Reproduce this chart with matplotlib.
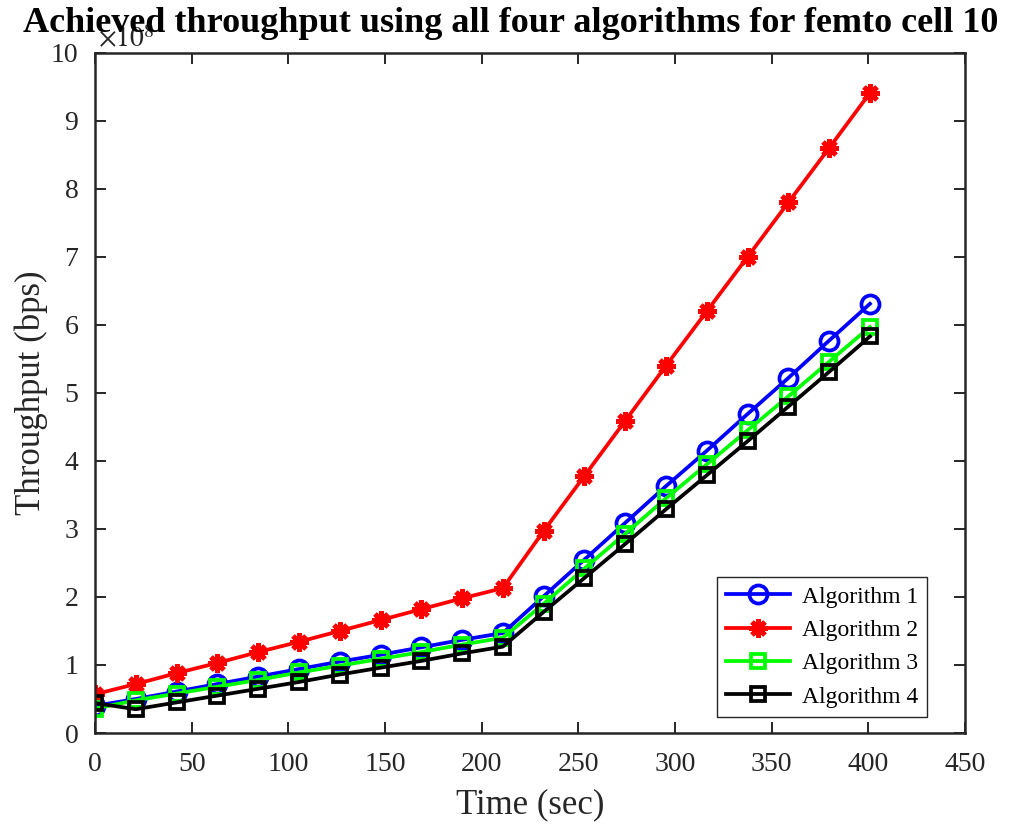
import matplotlib
matplotlib.use('Agg')
import matplotlib.pyplot as plt

plt.rcParams['font.family'] = ['Liberation Serif', 'DejaVu Serif']
plt.rcParams['mathtext.fontset'] = 'stix'

time_sec = [0, 21.1, 42.2, 63.3, 84.4, 105.5, 126.6, 147.7, 168.8, 189.9,
            211.0, 232.1, 253.2, 274.3, 295.4, 316.5, 337.6, 358.7, 379.8, 400.9]

# throughput in units of 1e8 bps
alg1 = [0.40, 0.50, 0.61, 0.72, 0.83, 0.94, 1.05, 1.15, 1.26, 1.37,
        1.47, 2.01, 2.55, 3.09, 3.63, 4.15, 4.69, 5.22, 5.77, 6.31]
alg2 = [0.57, 0.72, 0.88, 1.03, 1.19, 1.34, 1.50, 1.66, 1.82, 1.98,
        2.13, 2.97, 3.78, 4.59, 5.40, 6.20, 7.00, 7.80, 8.60, 9.41]
alg3 = [0.36, 0.48, 0.58, 0.68, 0.78, 0.89, 0.99, 1.09, 1.19, 1.30,
        1.40, 1.90, 2.42, 2.93, 3.45, 3.95, 4.45, 4.95, 5.46, 5.97]
alg4 = [0.44, 0.35, 0.45, 0.55, 0.65, 0.75, 0.86, 0.96, 1.06, 1.17,
        1.27, 1.78, 2.28, 2.78, 3.29, 3.79, 4.29, 4.80, 5.31, 5.83]

fig = plt.figure(figsize=(10.15, 8.25), dpi=100)
ax = fig.add_axes([0.0936, 0.1115, 0.857, 0.8245])

lw = 2.7
ax.plot(time_sec, alg1, color='#0000ff', lw=lw, marker='o', markersize=13,
        markerfacecolor='none', markeredgewidth=2.7, label='Algorithm 1')
ax.plot(time_sec, alg2, color='#ff0000', lw=lw, marker=(8, 2, 0), markersize=13,
        markeredgewidth=3.5, label='Algorithm 2')
ax.plot(time_sec, alg3, color='#00ff00', lw=lw, marker='s', markersize=10,
        markerfacecolor='none', markeredgewidth=2.7, label='Algorithm 3')
ax.plot(time_sec, alg4, color='#000000', lw=lw, marker='s', markersize=10,
        markerfacecolor='none', markeredgewidth=2.7, label='Algorithm 4')

ax.set_xlim(0, 450)
ax.set_ylim(0, 10)
ax.set_xticks(range(0, 451, 50))
ax.set_yticks(range(0, 11))

for s in ax.spines.values():
    s.set_color('#262626')
    s.set_linewidth(1.8)
ax.tick_params(direction='in', length=8, width=1.4, colors='#262626',
               labelsize=20, top=True, right=True)
ax.tick_params(axis='x', pad=14)
ax.tick_params(axis='y', pad=12)

ax.text(0.003, 1.0, r'$\times10^{8}$', transform=ax.transAxes, fontsize=20,
        color='#262626', ha='left', va='bottom')

ax.set_xlabel('Time (sec)', fontsize=25, color='#262626', labelpad=8)
ax.set_ylabel('Throughput (bps)', fontsize=25, color='#262626', labelpad=2)
fig.text(0.503, 0.972, 'Achieved throughput using all four algorithms for femto cell 10',
         fontsize=26, fontweight='bold', ha='center', va='center')

leg = ax.legend(loc='lower right', bbox_to_anchor=(0.957, 0.0235), borderaxespad=0,
                fontsize=17, fancybox=False, framealpha=1, edgecolor='#262626',
                handlelength=2.7, labelspacing=0.5, handletextpad=0.5)
leg.get_frame().set_linewidth(1.0)

fig.savefig('out.png', dpi=100)
